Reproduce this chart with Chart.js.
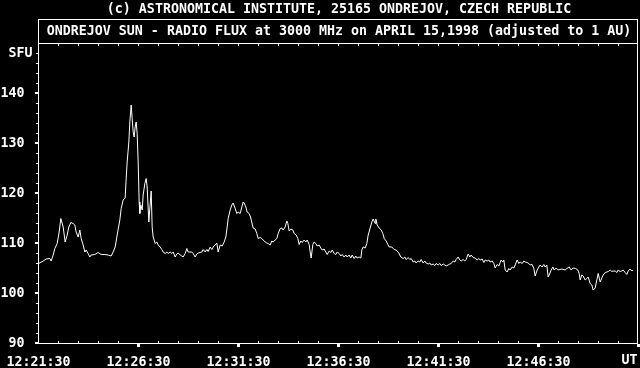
<!DOCTYPE html>
<html>
<head>
<meta charset="utf-8">
<script src="https://cdn.jsdelivr.net/npm/chart.js@4/dist/chart.umd.min.js"></script>
<style>
  html, body { margin: 0; padding: 0; background: #000; }
  #wrap { width: 640px; height: 368px; }
</style>
</head>
<body>
<div id="wrap"><canvas id="chart"></canvas></div>
<script>
// Time in seconds after 12:21:30 UT
const seconds = [
    0, 14, 23, 34, 38, 44, 49, 56, 62, 67,
    74, 80, 86, 91, 97, 104, 109, 113, 119, 124,
    128, 134, 139, 143, 149, 154, 158, 169, 179, 188,
    199, 209, 218, 224, 230, 236, 244, 248, 254, 260,
    263, 266, 271, 274, 278, 281, 284, 287, 290, 293,
    296, 299, 302, 304, 307, 311, 314, 319, 323, 326,
    331, 338, 341, 344, 350, 355, 359, 365, 370, 374,
    380, 385, 389, 395, 400, 404, 410, 415, 419, 425,
    430, 434, 440, 445, 449, 460, 464, 470, 475, 479,
    490, 494, 500, 505, 509, 515, 520, 524, 530, 535,
    539, 545, 551, 557, 562, 566, 569, 575, 580, 584,
    590, 595, 599, 605, 610, 614, 617, 622, 626, 632,
    636, 644, 650, 655, 659, 665, 670, 674, 680, 685,
    689, 695, 700, 704, 710, 715, 719, 725, 730, 734,
    740, 745, 748, 752, 757, 763, 767, 773, 778, 782,
    787, 791, 797, 802, 806, 812, 815, 818, 823, 827,
    832, 836, 842, 847, 851, 857, 862, 866, 872, 877,
    881, 887, 892, 896, 902, 907, 911, 917, 922, 926,
    932, 937, 941, 947, 952, 956, 962, 967, 970, 974,
    980, 985, 989, 995, 1000, 1004, 1010, 1012, 1016, 1022,
    1028, 1033, 1037, 1043, 1048, 1052, 1060, 1067, 1073, 1081,
    1087, 1094, 1099, 1103, 1109, 1114, 1118, 1124, 1129, 1133,
    1139, 1144, 1148, 1154, 1159, 1163, 1169, 1174, 1178, 1184,
    1189, 1193, 1199, 1204, 1208, 1214, 1219, 1223, 1229, 1234,
    1238, 1244, 1249, 1253, 1259, 1264, 1268, 1274, 1279, 1283,
    1289, 1294, 1298, 1304, 1310, 1316, 1321, 1325, 1331, 1336,
    1340, 1346, 1351, 1355, 1361, 1366, 1370, 1376, 1381, 1385,
    1388, 1393, 1396, 1400, 1406, 1411, 1415, 1421, 1426, 1430,
    1436, 1441, 1445, 1451, 1456, 1460, 1466, 1471, 1475, 1481,
    1486, 1490, 1496, 1501, 1505, 1511, 1516, 1520, 1525, 1529,
    1532, 1538, 1543, 1547, 1553, 1556, 1559, 1570, 1580, 1585,
    1592, 1598, 1604, 1611, 1618, 1622, 1625, 1630, 1634, 1640,
    1645, 1649, 1655, 1660, 1664, 1670, 1675, 1679, 1685, 1690,
    1694, 1700, 1705, 1709, 1715, 1720, 1724, 1730, 1735, 1739,
    1745, 1750, 1754, 1760, 1765, 1769, 1775, 1780, 1783
];

// Radio flux in SFU
const flux = [
    106.0, 106.5, 106.9, 107.0, 106.5, 107.7, 109.0, 110.0, 112.3, 115.0,
    113.3, 110.3, 111.7, 113.3, 114.2, 114.0, 113.7, 112.3, 111.3, 112.7,
    111.0, 109.7, 108.3, 108.7, 108.0, 107.3, 107.7, 107.8, 108.2, 107.8,
    107.8, 107.7, 107.5, 108.3, 109.3, 111.7, 114.7, 117.0, 118.7, 119.1,
    123.0, 126.3, 130.3, 134.3, 137.7, 135.0, 132.3, 131.3, 133.3, 134.3,
    132.0, 126.3, 118.3, 116.0, 117.7, 116.7, 119.7, 122.0, 123.0, 121.3,
    114.3, 120.5, 113.3, 111.3, 110.0, 110.3, 109.7, 109.3, 108.8, 108.3,
    108.0, 108.3, 108.0, 108.3, 108.0, 108.3, 107.3, 107.9, 108.1, 107.7,
    107.5, 107.3, 108.0, 109.0, 108.3, 108.3, 108.0, 107.3, 107.9, 108.1,
    108.3, 108.8, 108.3, 108.8, 108.4, 109.3, 108.8, 109.3, 109.7, 110.1,
    108.3, 109.7, 109.5, 110.3, 111.3, 113.3, 115.0, 116.7, 117.7, 118.1,
    117.0, 116.0, 116.3, 116.0, 117.3, 118.3, 118.1, 117.3, 116.3, 116.0,
    115.3, 113.1, 112.9, 112.0, 111.0, 111.2, 111.0, 110.7, 110.3, 110.1,
    110.0, 109.7, 110.5, 110.3, 110.7, 111.0, 112.0, 113.0, 113.1, 112.7,
    113.3, 114.5, 114.0, 112.5, 112.9, 112.7, 112.0, 111.7, 111.0, 109.8,
    110.5, 110.2, 110.7, 110.3, 110.7, 109.8, 108.3, 107.1, 109.8, 110.3,
    110.0, 109.5, 109.7, 109.1, 108.7, 108.9, 108.3, 107.8, 108.5, 108.2,
    108.7, 108.0, 107.8, 108.3, 108.0, 107.5, 107.8, 107.3, 107.7, 107.3,
    107.7, 107.1, 107.7, 107.0, 107.5, 107.1, 107.3, 107.1, 108.7, 109.3,
    109.1, 110.0, 111.7, 113.1, 114.3, 114.9, 114.0, 114.9, 113.7, 113.1,
    112.7, 112.0, 111.0, 110.5, 109.8, 109.3, 109.3, 108.8, 108.7, 108.1,
    107.3, 107.0, 107.3, 106.8, 107.2, 106.8, 107.0, 106.3, 106.5, 106.1,
    106.5, 106.3, 106.8, 106.1, 106.5, 106.1, 105.9, 106.1, 105.7, 105.9,
    105.6, 106.0, 105.7, 106.0, 105.6, 105.9, 105.7, 105.5, 105.7, 105.9,
    106.0, 106.5, 106.3, 106.8, 107.3, 106.7, 106.5, 106.8, 106.5, 106.8,
    107.9, 107.3, 107.7, 107.2, 107.1, 106.7, 107.0, 106.7, 106.9, 106.2,
    106.7, 106.5, 106.7, 106.3, 106.5, 106.0, 105.1, 105.8, 105.5, 106.2,
    106.7, 106.3, 106.7, 104.7, 104.3, 105.0, 104.7, 105.3, 105.1, 105.7,
    106.7, 106.0, 106.3, 106.0, 106.5, 106.3, 106.2, 106.0, 105.7, 105.8,
    105.0, 103.5, 104.7, 105.3, 105.7, 105.3, 105.8, 105.3, 105.7, 103.3,
    103.7, 104.7, 105.3, 104.7, 105.1, 104.9, 104.7, 104.9, 104.7, 105.0,
    105.3, 104.7, 105.1, 105.0, 104.7, 104.0, 102.7, 103.7, 103.5, 102.7,
    103.0, 103.3, 102.0, 101.7, 100.7, 101.1, 102.7, 104.0, 102.3, 103.1,
    103.7, 104.2, 104.3, 104.4, 104.7, 104.4, 104.5, 104.5, 104.2, 104.7,
    104.4, 104.5, 104.7, 104.2, 103.8, 104.5, 104.9, 104.5, 104.7
];

const tickSeconds = [0, 300, 600, 900, 1200, 1500];
const timeLabels = ['12:21:30', '12:26:30', '12:31:30', '12:36:30', '12:41:30', '12:46:30'];
const fluxTicks = [90, 100, 110, 120, 130, 140];

const headerText = '(c) ASTRONOMICAL INSTITUTE, 25165 ONDREJOV, CZECH REPUBLIC';
const titleText = 'ONDREJOV SUN - RADIO FLUX at 3000 MHz on APRIL 15,1998 (adjusted to 1 AU)';

const fontFamily = '"DejaVu Sans Mono", monospace';
const fontSize = 13.3;
const fontWeight = 'bold';

// Black background, frame, tick marks and the extra labels
const framePlugin = {
    id: 'frame',
    beforeDraw(chart) {
        const ctx = chart.ctx;
        ctx.save();
        ctx.fillStyle = '#000';
        ctx.fillRect(0, 0, chart.width, chart.height);
        ctx.restore();
    },
    afterDraw(chart) {
        const { ctx, chartArea: a, scales: { x, y } } = chart;
        const right = a.right - 1;
        ctx.save();
        ctx.strokeStyle = '#fff';
        ctx.fillStyle = '#fff';
        ctx.lineWidth = 1;

        // title box and plot frame
        ctx.strokeRect(a.left, 19.5, right - a.left, a.bottom - 19.5);
        ctx.beginPath();
        ctx.moveTo(a.left, a.top);
        ctx.lineTo(right, a.top);
        ctx.stroke();

        // minute ticks on top and bottom, 5 minute marks below the axis
        for (let s = 60; s <= 1800; s += 60) {
            const col = Math.floor(x.getPixelForValue(s));
            if (s < 1800) ctx.fillRect(col, a.top + 0.5, 1, 2);
            if (s % 300 === 0) {
                ctx.fillRect(col - 1, a.bottom + 0.5, 3, 3);
            } else {
                ctx.fillRect(col, a.bottom - 2.5, 1, 2);
            }
        }

        // y ticks on the outside of the axis
        for (let v = 92; v < 150; v += 2) {
            const row = Math.floor(y.getPixelForValue(v));
            if (v % 10 === 0) {
                ctx.fillRect(a.left - 3.5, row - 1, 3, 2);
            } else {
                ctx.fillRect(a.left - 2.5, row, 2, 1);
            }
        }
        ctx.fillRect(a.left - 3.5, Math.floor(y.getPixelForValue(90)) - 1, 3, 2);

        ctx.font = fontWeight + ' ' + fontSize + 'px ' + fontFamily;
        ctx.textBaseline = 'middle';
        ctx.textAlign = 'center';
        ctx.fillText(headerText, 339, 10);
        ctx.fillText(titleText, (a.left + right) / 2 + 1, 32);

        ctx.textAlign = 'right';
        ctx.fillText('SFU', 32.5, 54);
        ctx.fillText('UT', 637.5, 361);
        ctx.restore();
    }
};

const points = seconds.map((s, i) => ({ x: s, y: flux[i] }));
const tickFont = { family: fontFamily, size: fontSize, weight: fontWeight };

new Chart(document.getElementById('chart'), {
    type: 'line',
    data: {
        datasets: [{
            data: points,
            borderColor: '#fff',
            borderWidth: 1,
            pointRadius: 0,
            tension: 0
        }]
    },
    options: {
        responsive: true,
        maintainAspectRatio: false,
        animation: false,
        layout: { padding: { top: 43.5, right: 1.5, left: 0, bottom: 0 } },
        plugins: {
            legend: { display: false },
            tooltip: { enabled: false }
        },
        scales: {
            x: {
                type: 'linear',
                min: 0,
                max: 1800,
                afterBuildTicks(scale) {
                    scale.ticks = tickSeconds.map(v => ({ value: v }));
                },
                afterFit(scale) { scale.height = 24.5; },
                grid: { display: false },
                border: { display: false },
                ticks: {
                    color: '#fff',
                    font: tickFont,
                    padding: 3,
                    maxRotation: 0,
                    autoSkip: false,
                    callback: v => timeLabels[tickSeconds.indexOf(v)]
                }
            },
            y: {
                min: 90,
                max: 150,
                afterBuildTicks(scale) {
                    scale.ticks = fluxTicks.map(v => ({ value: v }));
                },
                afterFit(scale) { scale.width = 38.5; },
                grid: { display: false },
                border: { display: false },
                ticks: {
                    color: '#fff',
                    font: tickFont,
                    padding: 6,
                    callback: v => String(v)
                }
            }
        }
    },
    plugins: [framePlugin]
});
</script>
</body>
</html>
